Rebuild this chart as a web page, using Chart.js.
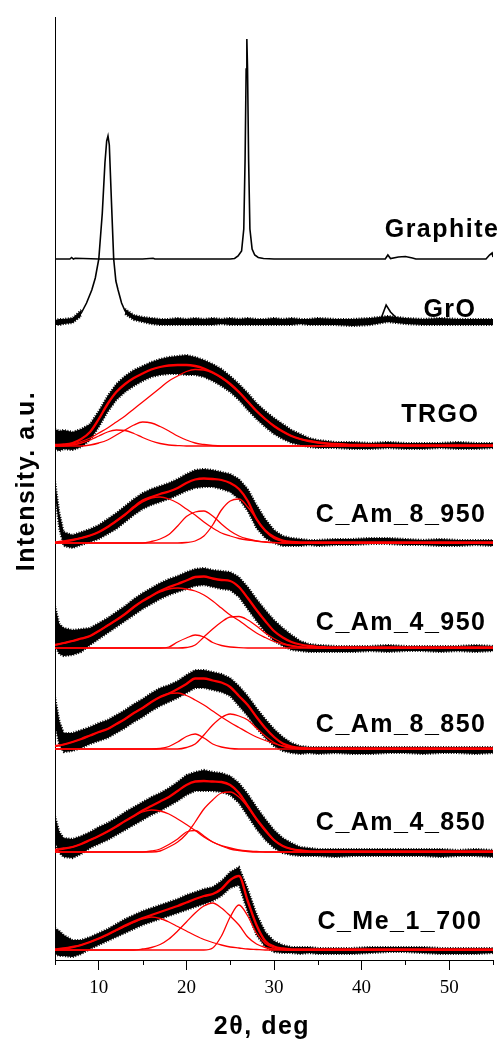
<!DOCTYPE html>
<html>
<head>
<meta charset="utf-8">
<script src="https://cdn.jsdelivr.net/npm/chart.js@4.4.1/dist/chart.umd.min.js"></script>
<style>
  html, body { margin: 0; padding: 0; background: #fff; }
  #wrap { width: 504px; height: 1039px; }
</style>
</head>
<body>
<div id="wrap"><canvas id="xrd"></canvas></div>
<script>
// ---- data (intensity in a.u., each pattern relative to its own baseline) ----
const sampleNames = ['Graphite', 'GrO', 'TRGO', 'C_Am_8_950', 'C_Am_4_950', 'C_Am_8_850', 'C_Am_4_850', 'C_Me_1_700'];
const baseOffsets = [701, 637, 514, 417, 312, 211, 108, 10];

// 2theta grids
const bandDeg = [5, 5.5, 6, 7, 8, 9, 10, 11, 12, 13, 14, 15, 16, 17, 18, 19, 20, 21, 22, 23, 24, 25, 26, 27, 28, 29, 30, 31, 32, 33, 34, 35, 37, 39, 41, 43, 45, 47, 49, 51, 53, 55];
const fitDeg = [5, 6, 7, 8, 9, 10, 11, 12, 13, 14, 15, 16, 17, 18, 19, 20, 21, 22, 23, 24, 25, 26, 27, 28, 29, 30, 31, 32, 33, 34, 35, 36, 37, 38, 39, 40, 45, 50, 55];

// Graphite
const graphiteDeg = [5, 6.7, 6.9, 7.1, 7.3, 10, 15, 16.2, 16.4, 20, 25, 25.5, 25.9, 26.3, 26.55, 26.7, 26.82, 26.9, 26.98, 27.1, 27.25, 27.5, 27.8, 28.2, 28.8, 30, 42.7, 43.0, 43.3, 44.2, 45.0, 45.8, 46.2, 54.2, 54.6, 54.9, 55];
const graphiteInt = [0, 0, 1.5, 0, 0.8, 0, 0, 0.8, 0, 0, 0, 0.5, 3, 8, 30, 100, 190, 220, 190, 100, 30, 10, 4, 1.5, 0.5, 0, 0, 4, 0.5, 2, 2.5, 1, 0, 0, 4, 6, 2];

// GrO
const groDeg = [5, 6, 7, 8, 8.6, 9.2, 9.6, 10.0, 10.4, 10.7, 10.9, 11.05, 11.2, 11.45, 11.7, 11.95, 12.2, 12.6, 13, 14, 15, 20, 30, 40, 42.2, 42.8, 43.3, 44.1, 45, 50, 55];
const groInt = [1, 2, 4, 10, 20, 33, 45, 64, 110, 160, 182, 187, 178, 120, 64, 42, 33, 20, 12, 6, 4, 2, 1, 1, 4, 18, 11, 4, 2, 1, 1];
const groTop = [3, 4, 4, 5, 13, null, null, null, null, 14, 8, 6, 5, 4, 4, 5, 4, 5, 4, 5, 4, 5, 4, 5, 4, 4, 5, 4, 5, 4, 4, 5, 4, 4, 5, 7, 5, 4, 5, 4, 4, 4];
const groBot = [-2, -2, -1, 0, 7, null, null, null, null, 9, 3, 1, -1, -2, -2, -2, -2, -2, -2, -2, -1, -2, -2, -2, -2, -2, -2, -2, -2, -1, -2, -2, -2, -3, -2, 1, -1, -2, -2, -2, -2, -2];

// TRGO
const trgoTop = [17, 15, 16, 14, 17, 22, 35, 50, 62, 70, 76, 80, 84, 87, 89, 90, 91, 89, 86, 82, 77, 70, 62, 53, 43, 35, 28, 22, 16, 12, 8, 6, 4, 4, 3, 4, 3, 3, 3, 4, 3, 3];
const trgoBot = [-3, -5, -3, -4, -1, 6, 19, 34, 46, 54, 60, 65, 69, 71, 72, 72, 71, 71, 69, 65, 60, 54, 46, 36, 27, 19, 12, 7, 3, 1, -1, -2, -2, -3, -3, -2, -3, -3, -2, -3, -3, -2];
const trgoFit = [1, 1.5, 3, 7, 14, 27, 42, 54, 62, 68, 72.5, 76.5, 79, 80.5, 81, 81, 80, 77.5, 73.5, 68.5, 62, 54, 44.5, 35, 27, 20, 14.5, 10, 7, 5, 3.5, 2.5, 2, 1.5, 1, 1, 0.7, 0.5, 0.5];
const trgoPk1 = [0.3, 1, 2, 4.5, 8, 13, 18, 24, 30, 37, 44, 51, 58, 65, 70, 74.5, 76.5, 76, 73, 68, 61.5, 53.5, 44.5, 35, 27, 20, 14.5, 10, 7, 5, 3.5, 2.5, 2, 1.5, 1, 1, 0.7, 0.5, 0.5];
const trgoPk2 = [0, 0, 0, 0, 1, 3, 6, 11, 16, 21, 24, 23, 19.5, 15, 10, 6, 3, 1.5, 0.5, 0];
const trgoPk3 = [0, 0, 1, 3, 6, 10, 14, 16, 15.5, 12.5, 8.5, 5, 2.5, 1, 0.4, 0];

// C_Am_8_950
const am8950Top = [62, 30, 11, 8, 11, 14, 18, 24, 30, 37, 44, 50, 54, 57, 60, 64, 69, 73, 74, 73, 71, 69, 64, 54, 38, 24, 13, 7, 5, 4, 3, 3, 4, 4, 5, 5, 4, 3, 4, 3, 3, 3];
const am8950Bot = [48, 14, -3, -5, -2, 1, 4, 9, 14, 21, 28, 34, 38, 41, 44, 48, 52, 55, 56, 56, 54, 51, 44, 32, 15, 5, 0, -3, -3, -3, -2, -3, -2, -2, -1, -1, -2, -2, -3, -3, -2, -3];
const am8950Fit = [0.5, 1.5, 3, 5, 7.5, 11, 16, 22, 28.5, 36, 42.5, 46, 49, 51.5, 55, 60, 63.5, 64.5, 64, 63, 60, 54, 42, 24, 12.5, 6, 2.5, 1, 0.5, 0.5, 0.5, 0.5, 0.5, 0.5, 0.5, 0.5, 0.5, 0.5, 0.5];
const am8950Pk1 = [0.5, 1.5, 3, 5, 7.5, 11, 16, 22, 28, 35, 41, 45, 46, 44, 40, 34, 28, 21, 15, 10, 7, 4.5, 3, 2, 1, 0.5, 0];
const am8950Pk2 = [0, 0, 0, 0, 0, 0, 0, 0, 0, 0, 0, 1.5, 4, 8.5, 17, 26.5, 31, 32, 27, 19, 12, 7, 4, 2, 1, 0.3, 0];
const am8950Pk3 = [0, 0, 0, 0, 0, 0, 0, 0, 0, 0, 0, 0, 0, 0, 0, 0.5, 2, 7, 18, 33, 42, 44, 36, 24, 12, 4.5, 1.5, 0.5, 0];

// C_Am_4_950
const am4950Top = [42, 24, 20, 18, 19, 20, 25, 30, 36, 42, 49, 55, 60, 65, 69, 72, 76, 79, 80, 78, 77, 76, 71, 61, 49, 38, 28, 20, 13, 7, 4, 3, 2, 2, 2, 3, 2, 2, 2, 2, 3, 2];
const am4950Bot = [2, -6, -8, -7, -4, 3, 9, 15, 21, 27, 33, 39, 44, 49, 53, 56, 59, 62, 63, 61, 59, 58, 51, 39, 27, 16, 7, 2, -2, -3, -4, -4, -4, -4, -3, -4, -3, -3, -4, -3, -4, -3];
const am4950Fit = [3, 5, 7, 9.5, 12, 17, 22.5, 28, 34, 41, 47, 52, 57, 61, 64, 67.5, 71, 71.5, 69.5, 68, 67, 61, 50, 38, 27, 17, 10.5, 6, 3.5, 2, 1, 0.7, 0.5, 0.5, 0.5, 0.5, 0.5, 0.5, 0.5];
const am4950Pk1 = [3, 5, 7, 9.5, 12, 17, 22.5, 28, 34, 41, 47, 52, 56, 59, 60, 59, 57, 53, 47, 40, 33, 27.5, 21, 15, 10.5, 6.5, 4, 2, 1, 0.5, 0];
const am4950Pk2 = [0, 0, 0, 0, 0, 0, 0, 0, 0, 0, 0, 0, 0, 1, 6, 10, 13, 11, 5.5, 2.5, 1, 0.3, 0];
const am4950Pk3 = [0, 0, 0, 0, 0, 0, 0, 0, 0, 0, 0, 0, 0, 0, 0, 0.5, 3, 11, 19, 26, 31, 31.5, 28, 22, 15, 9.5, 5, 2.5, 1, 0.3, 0];

// C_Am_8_850
const am8850Top = [52, 28, 16, 16, 19, 22, 26, 29, 34, 39, 45, 50, 56, 61, 64, 68, 74, 79, 79, 77, 75, 71, 63, 53, 41, 30, 20, 12, 6, 3, 2, 2, 2, 2, 2, 2, 2, 2, 2, 2, 2, 2];
const am8850Bot = [24, 4, -3, -2, 1, 5, 8, 11, 16, 21, 27, 32, 38, 43, 47, 51, 56, 61, 61, 59, 57, 53, 43, 33, 21, 11, 3, -2, -4, -5, -4, -5, -4, -5, -5, -4, -4, -5, -4, -4, -5, -4];
const am8850Fit = [3, 4.5, 7, 10, 13.5, 17, 20, 25, 30, 36, 41, 47, 52, 55.5, 60, 65, 70.5, 70.5, 68.5, 66.5, 62, 53, 44, 32, 21, 12, 5.5, 2.5, 1, 0.5, 0.5, 0.5, 0.5, 0.5, 0.5, 0.5, 0.5, 0.5, 0.5];
const am8850Pk1 = [3, 4.5, 7, 10, 13.5, 17, 20, 25, 30, 36, 41, 47, 52, 55.5, 56, 53.5, 49, 44, 38, 32, 26.5, 21.5, 16.5, 12, 8.5, 5.5, 3, 1.5, 0.5, 0];
const am8850Pk2 = [0, 0, 0, 0, 0, 0, 0, 0, 0, 0, 0, 0, 0.5, 2.5, 7, 12.5, 15, 11, 5, 2, 0.5, 0];
const am8850Pk3 = [0, 0, 0, 0, 0, 0, 0, 0, 0, 0, 0, 0, 0, 0, 0, 1.5, 5, 14, 24, 31.5, 35, 33, 29, 21, 13, 6.5, 2.5, 1, 0];

// C_Am_4_850
const am4850Top = [36, 20, 14, 13, 16, 20, 25, 29, 34, 40, 45, 50, 55, 59, 64, 70, 77, 80, 82, 80, 79, 76, 69, 58, 45, 33, 22, 14, 9, 5, 4, 3, 3, 3, 3, 3, 3, 3, 3, 2, 3, 2];
const am4850Bot = [10, -1, -5, -6, -2, 4, 8, 12, 17, 22, 27, 32, 37, 41, 46, 51, 57, 61, 61, 61, 60, 57, 49, 36, 23, 12, 4, -1, -3, -4, -4, -4, -5, -4, -4, -4, -4, -4, -5, -4, -4, -5];
const am4850Fit = [2, 3.5, 5, 8, 12, 16, 20.5, 25.5, 31, 36, 41.5, 46, 50.5, 55, 61, 67, 70.5, 71, 70.5, 70, 67, 59, 46, 33, 22, 12, 6, 3, 1.5, 0.7, 0.5, 0.5, 0.5, 0.5, 0.5, 0.5, 0.5, 0.5, 0.5];
const am4850Pk1 = [2, 3.5, 5, 8, 12, 16, 20.5, 25.5, 31, 36, 40, 42, 41, 38, 33, 27.5, 21.5, 15, 10, 6.5, 4, 2, 1, 0.5, 0];
const am4850Pk2 = [0, 0, 0, 0, 0, 0, 0, 0, 0, 0, 0, 1, 3, 7.5, 13, 20, 21.5, 16, 10, 6, 3, 1.5, 0.5, 0];
const am4850Pk3 = [0, 0, 0, 0, 0, 0, 0, 0, 0, 0, 0, 0, 1, 5, 10, 18, 30, 43, 52, 59, 60, 55, 45, 32.5, 21, 12, 6, 3, 1.5, 0.5, 0];

// C_Me_1_700
const meTop = [22, 19, 15, 10, 10, 13, 17, 21, 26, 31, 35, 39, 42, 45, 48, 51, 55, 58, 61, 63, 69, 78, 83, 61, 36, 18, 9, 5, 3, 3, 3, 2, 2, 2, 3, 3, 3, 3, 2, 2, 2, 2];
const meBot = [-4, -6, -6, -7, -4, 1, 5, 9, 13, 17, 21, 25, 28, 31, 34, 37, 40, 43, 46, 49, 54, 62, 65, 38, 15, 3, -2, -3, -3, -4, -3, -4, -4, -4, -3, -2, -2, -3, -4, -4, -4, -3];
const meFit = [0.7, 1.5, 3, 5, 8, 11.5, 15.5, 20, 24.5, 28.5, 32, 35, 38, 41, 44, 47.5, 51, 54, 56, 61, 70, 74, 49, 25, 9, 3.5, 1.5, 0.7, 0.5, 0.5, 0.5, 0.5, 0.5, 0.5, 0.5, 0.5, 0.5, 0.5, 0.5];
const mePk1 = [0.7, 1.5, 3, 5, 8, 11.5, 15, 19.5, 23.5, 27.5, 31, 33, 31.5, 28, 23.5, 19, 14.5, 10.5, 7.5, 5, 3, 2, 1, 0.5, 0];
const mePk2 = [0, 0, 0, 0, 0, 0, 0, 0, 0, 0, 1, 2.5, 5.5, 11, 19, 28, 37, 44, 47, 42, 34, 25, 13, 6, 2.5, 1, 0.3, 0];
const mePk3 = [0, 0, 0, 0, 0, 0, 0, 0, 0, 0, 0, 0, 0, 0, 0, 0, 0, 0, 2, 14, 33, 45, 34, 17, 6.5, 2, 0.5, 0];

// ---- dataset builders ----
function rawLine(degs, vals, off) {
  return {
    data: degs.map((x, i) => ({ x, y: off + vals[i] })),
    borderColor: '#000', borderWidth: 1.6, pointRadius: 0, tension: 0, fill: false, order: 2
  };
}

// noisy measured pattern drawn as a filled black band between two envelopes,
// the dotted border roughens the edges a little
function noiseBand(top, bot, off) {
  const lo = bandDeg.map((x, i) => ({ x, y: bot[i] === null ? null : off + bot[i] }));
  const hi = bandDeg.map((x, i) => ({ x, y: top[i] === null ? null : off + top[i] }));
  const edge = { borderColor: '#000', borderWidth: 2.2, borderDash: [1, 1.6], pointRadius: 0, tension: 0, order: 3 };
  return [
    { ...edge, data: lo, fill: false },
    { ...edge, data: hi, fill: '-1', backgroundColor: '#000' }
  ];
}

// fitted components are zero past the end of their list
function fitCurve(vals, off, width) {
  return {
    data: fitDeg.map((x, i) => ({ x, y: off + (i < vals.length ? vals[i] : 0) })),
    borderColor: '#ff0000', borderWidth: width, pointRadius: 0,
    cubicInterpolationMode: 'monotone', fill: false, order: width > 2 ? 0 : 1
  };
}

const fitted = [
  [trgoTop, trgoBot, trgoFit, [trgoPk1, trgoPk2, trgoPk3]],
  [am8950Top, am8950Bot, am8950Fit, [am8950Pk1, am8950Pk2, am8950Pk3]],
  [am4950Top, am4950Bot, am4950Fit, [am4950Pk1, am4950Pk2, am4950Pk3]],
  [am8850Top, am8850Bot, am8850Fit, [am8850Pk1, am8850Pk2, am8850Pk3]],
  [am4850Top, am4850Bot, am4850Fit, [am4850Pk1, am4850Pk2, am4850Pk3]],
  [meTop, meBot, meFit, [mePk1, mePk2, mePk3]]
];

const datasets = [];
datasets.push(rawLine(graphiteDeg, graphiteInt, baseOffsets[0]));
datasets.push(...noiseBand(groTop, groBot, baseOffsets[1]));
datasets.push(rawLine(groDeg, groInt, baseOffsets[1]));
fitted.forEach(([top, bot, fit, peaks], k) => {
  const off = baseOffsets[k + 2];
  datasets.push(...noiseBand(top, bot, off));
  peaks.forEach(p => datasets.push(fitCurve(p, off, 1.3)));
  datasets.push(fitCurve(fit, off, 2.3));
});

// label anchors: [2theta of right edge, height of text centre]
const labelAnchor = [[55.74, 730], [53.12, 650], [53.46, 545], [54.26, 445], [54.26, 337], [54.26, 235], [54.26, 137], [53.8, 38]];
const boldFont = 'bold 25px "Liberation Sans", Arial, sans-serif';

const sampleLabels = {
  id: 'sampleLabels',
  afterDatasetsDraw(chart) {
    const { ctx, scales: { x, y } } = chart;
    ctx.save();
    ctx.font = boldFont;
    ctx.letterSpacing = '1.5px';
    ctx.fillStyle = '#000';
    ctx.textAlign = 'right';
    ctx.textBaseline = 'middle';
    sampleNames.forEach((name, i) => {
      const [deg, h] = labelAnchor[i];
      ctx.fillText(name, x.getPixelForValue(deg), y.getPixelForValue(h));
    });
    ctx.restore();
  }
};

// axis titles (drawn here so they can get the same letter spacing)
const axisTitles = {
  id: 'axisTitles',
  afterDraw(chart) {
    const { ctx, chartArea } = chart;
    ctx.save();
    ctx.font = boldFont;
    ctx.letterSpacing = '1.5px';
    ctx.fillStyle = '#000';
    ctx.textAlign = 'center';
    ctx.textBaseline = 'alphabetic';
    ctx.fillText('2θ, deg', chartArea.left + 207, chartArea.bottom + 74);
    ctx.translate(27, chartArea.top + 464);
    ctx.rotate(-Math.PI / 2);
    ctx.textBaseline = 'middle';
    ctx.fillText('Intensity. a.u.', 0, 0);
    ctx.restore();
  }
};

// short ticks at the odd multiples of 5
const minorTicks = {
  id: 'minorTicks',
  afterDraw(chart) {
    const { ctx, scales: { x } } = chart;
    ctx.save();
    ctx.strokeStyle = '#000';
    ctx.lineWidth = 1;
    [5, 15, 25, 35, 45, 55].forEach(v => {
      const px = Math.round(x.getPixelForValue(v)) + 0.5;
      ctx.beginPath();
      ctx.moveTo(px, x.top);
      ctx.lineTo(px, x.top + 5);
      ctx.stroke();
    });
    ctx.restore();
  }
};

Chart.defaults.font.family = '"Liberation Sans", Arial, sans-serif';
Chart.defaults.color = '#000';

new Chart(document.getElementById('xrd'), {
  type: 'line',
  data: { datasets },
  options: {
    responsive: true,
    maintainAspectRatio: false,
    animation: false,
    spanGaps: false,
    layout: { padding: { left: 0, right: 11, top: 17, bottom: 0 } },
    plugins: { legend: { display: false }, tooltip: { enabled: false } },
    scales: {
      x: {
        type: 'linear',
        min: 5, max: 55,
        afterFit(scale) { scale.height = 79; },
        border: { display: true, color: '#000', width: 1 },
        grid: {
          display: true, drawOnChartArea: false, drawTicks: true, tickLength: 10,
          tickColor: ctx => (ctx.tick && ctx.tick.value % 10 === 0 ? '#000' : 'rgba(0,0,0,0)')
        },
        ticks: {
          stepSize: 5, autoSkip: false, maxRotation: 0, padding: 7,
          font: { family: '"Liberation Serif", "Times New Roman", serif', size: 19 },
          callback: v => (v % 10 === 0 && v > 5 && v < 55 ? String(v) : '')
        },
        title: { display: false }
      },
      y: {
        min: 0, max: 943,
        afterFit(scale) { scale.width = 55; },
        border: { display: true, color: '#000', width: 1 },
        grid: { display: false },
        ticks: { display: false },
        title: { display: false }
      }
    }
  },
  plugins: [sampleLabels, axisTitles, minorTicks]
});
</script>
</body>
</html>
